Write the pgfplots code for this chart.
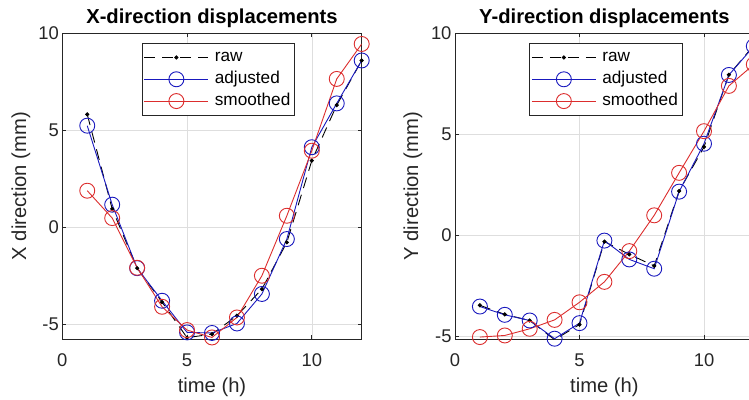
\documentclass[border=0pt]{standalone}
\usepackage{fontspec}
\setmainfont{Liberation Sans}
\usepackage{pgfplots}
\pgfplotsset{compat=1.18}

\definecolor{mblue}{RGB}{25,25,190}
\definecolor{mred}{RGB}{220,45,45}
\definecolor{maxis}{RGB}{38,38,38}
\definecolor{mgrid}{RGB}{222,222,222}

\pgfplotsset{disp/.style={
  scale only axis, width=299.4bp, height=305.7bp,
  xmin=0, xmax=12, ymax=10,
  xtick={0,5,10}, ytick={-5,0,5,10},
  grid=major, major grid style={mgrid, line width=0.6bp},
  axis line style={maxis, line width=0.7bp},
  tick style={maxis, line width=0.7bp},
  tick align=inside, major tick length=4bp,
  tick pos=both,
  ticklabel style={font=\fontsize{18.4bp}{22bp}\selectfont, text=maxis},
  xticklabel style={yshift=-11bp},
  /pgf/number format/assume math mode=true,
  label style={font=\fontsize{20.2bp}{24bp}\selectfont, text=maxis},
  title style={font=\bfseries\fontsize{20.2bp}{24bp}\selectfont, at={(axis description cs:0.5,1.029)}, anchor=center},
  xlabel style={at={(axis description cs:0.5,-0.157)}, anchor=center},
  xlabel={time (h)},
  legend style={font=\fontsize{17.2bp}{20bp}\selectfont, draw=maxis, line width=0.6bp,
    fill=white, anchor=north west, inner xsep=2bp, inner ysep=3.5bp, row sep=0bp,
    column sep=4bp,
    nodes={inner xsep=2bp, inner ysep=2.9bp, text height=12.5bp, text depth=3.5bp}},
  legend cell align=left,
  legend image code/.code={\draw[mark repeat=2,mark phase=2,#1] plot coordinates {(0bp,0bp)(32bp,0bp)(64bp,0bp)};},
  every axis plot/.append style={line width=0.9bp},
  raw/.style={black, dash pattern=on 11bp off 7bp, mark=*, mark size=1.6bp, mark options={solid}},
  adj/.style={mblue, mark=o, mark size=7.5bp, mark options={solid}},
  smo/.style={mred, mark=o, mark size=7.5bp, mark options={solid}},
}}

\begin{document}
\begin{tikzpicture}

\begin{axis}[
  disp,
  at={(62.3bp,61bp)}, anchor=south west,
  ymin=-5.75,
  title={X-direction displacements},
  ylabel={X direction (mm)},
  ylabel style={at={(axis description cs:-0.138,0.5)}, anchor=center},
  legend style={at={(axis description cs:0.265,0.969)}},
]
\addplot[raw] coordinates {
  (1,5.82) (2,0.95) (3,-2.1) (4,-3.85) (5,-5.68) (6,-5.5)
  (7,-4.55) (8,-3.18) (9,-0.77) (10,3.44) (11,6.3) (12,8.6)
};
\addplot[adj] coordinates {
  (1,5.24) (2,1.17) (3,-2.1) (4,-3.78) (5,-5.41) (6,-5.44)
  (7,-4.95) (8,-3.43) (9,-0.6) (10,4.13) (11,6.39) (12,8.6)
};
\addplot[smo] coordinates {
  (1,1.89) (2,0.48) (3,-2.08) (4,-4.09) (5,-5.29) (6,-5.67)
  (7,-4.64) (8,-2.49) (9,0.6) (10,3.95) (11,7.65) (12,9.45)
};
\legend{raw, adjusted, smoothed}
\end{axis}

\begin{axis}[
  disp,
  at={(455bp,60.7bp)}, anchor=south west,
  width=298.8bp, height=306bp,
  ymin=-5.13,
  title={Y-direction displacements},
  ylabel={Y direction (mm)},
  ylabel style={at={(axis description cs:-0.141,0.5)}, anchor=center},
  legend style={at={(axis description cs:0.248,0.969)}},
]
\addplot[raw] coordinates {
  (1,-3.45) (2,-3.9) (3,-4.2) (4,-5.15) (5,-4.4) (6,-0.3)
  (7,-0.93) (8,-1.5) (9,2.2) (10,4.38) (11,7.95) (12,9.4)
};
\addplot[adj] coordinates {
  (1,-3.51) (2,-3.92) (3,-4.2) (4,-5.1) (5,-4.33) (6,-0.25)
  (7,-1.18) (8,-1.64) (9,2.17) (10,4.54) (11,7.94) (12,9.36)
};
\addplot[smo] coordinates {
  (1,-5.02) (2,-4.94) (3,-4.61) (4,-4.17) (5,-3.3) (6,-2.29)
  (7,-0.77) (8,1.0) (9,3.1) (10,5.16) (11,7.4) (12,8.46)
};
\legend{raw, adjusted, smoothed}
\end{axis}

% the reference is cut off at the right edge
\pgfresetboundingbox
\path[use as bounding box] (0,0) rectangle (749bp,400bp);
\end{tikzpicture}
\end{document}
